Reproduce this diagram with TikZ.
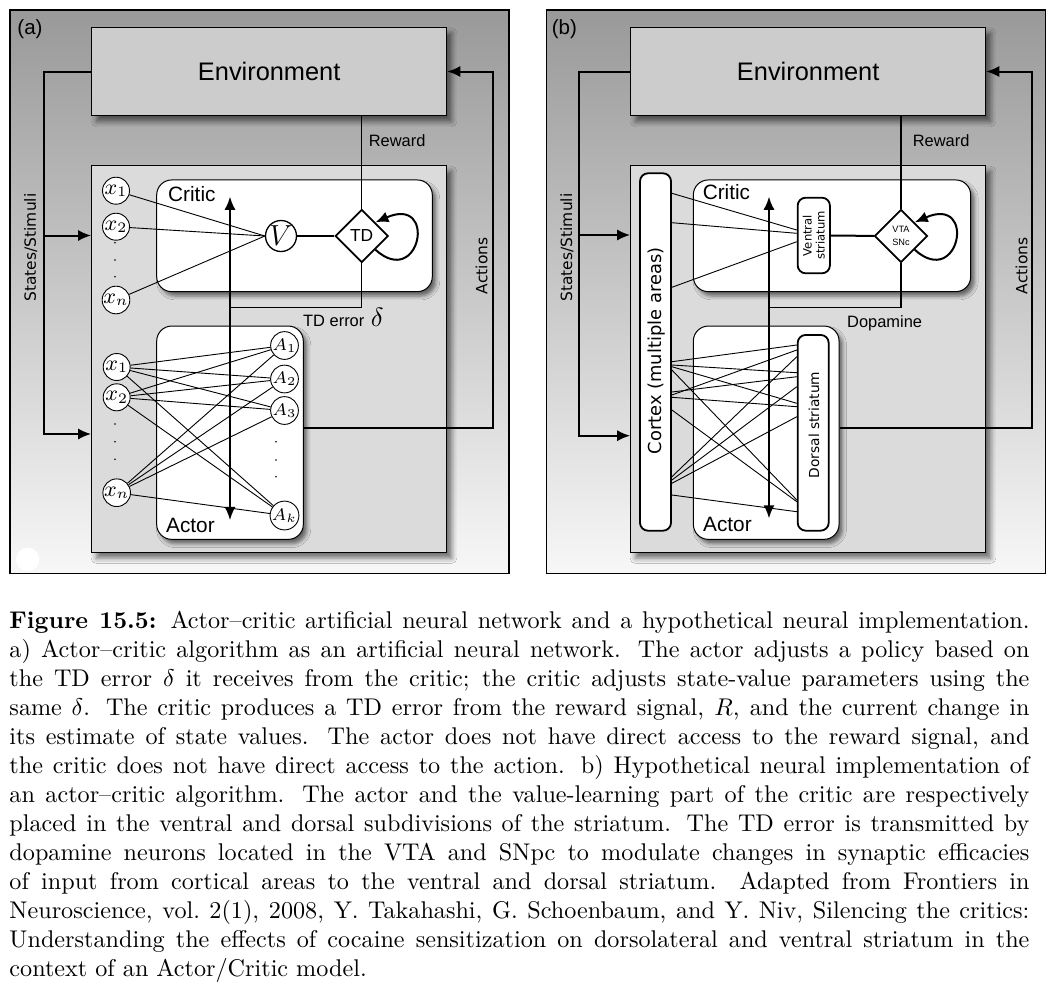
\documentclass[tikz,border=0pt]{standalone}
\usepackage{fontspec}
\newfontfamily\helvfont{Liberation Sans}
\newfontfamily\lucfont{DejaVu Sans}
\usetikzlibrary{arrows.meta,shapes.geometric,shadows.blur}

\newlength{\du}
\setlength{\du}{0.4138pt}

\definecolor{frametop}{gray}{0.60}
\definecolor{framebot}{gray}{0.97}
\definecolor{envgray}{gray}{0.80}
\definecolor{lowgray}{gray}{0.86}

\tikzset{
  panel/.style={draw, line width=1.2\du, top color=frametop, bottom color=framebot,
    anchor=north west, minimum width=499\du, minimum height=563.4\du, inner sep=0pt},
  boxshadow/.style={blur shadow={shadow xshift=2pt, shadow yshift=-2.4pt,
    shadow blur radius=2.2pt, shadow opacity=55}},
  envbox/.style={draw, line width=1\du, fill=envgray, minimum width=355\du,
    minimum height=88.4\du, inner sep=0pt, boxshadow,
    font=\helvfont\fontsize{10.5}{12}\selectfont},
  lowbox/.style={draw, line width=1\du, fill=lowgray, minimum width=355\du,
    minimum height=386.6\du, inner sep=0pt, boxshadow},
  unitbox/.style={draw, line width=1\du, fill=white, rounded corners=15\du, inner sep=0pt,
    blur shadow={shadow xshift=1.5pt, shadow yshift=-1.8pt, shadow blur radius=1.6pt,
    shadow opacity=55}},
  brainbox/.style={draw, line width=1.8\du, fill=white, rounded corners=8\du, inner sep=0pt},
  inp/.style={circle, draw, line width=0.9\du, fill=white, minimum size=27\du,
    inner sep=0pt, font=\fontsize{9}{10}\selectfont},
  outp/.style={inp, font=\fontsize{7}{8}\selectfont},
  valnode/.style={circle, draw, line width=1.3\du, fill=white, minimum size=31\du,
    inner sep=0pt, font=\fontsize{12}{14}\selectfont},
  tdnode/.style={diamond, draw, line width=1.8\du, fill=white, minimum size=53\du,
    inner sep=0pt, align=center},
  tag/.style={inner sep=0pt, font=\helvfont\fontsize{8.5}{10}\selectfont},
  smalllab/.style={inner sep=0pt, anchor=base west, font=\helvfont\fontsize{6.8}{8}\selectfont},
  boxlab/.style={inner sep=0pt, anchor=base west, font=\helvfont\fontsize{8.6}{10}\selectfont},
  sidelab/.style={rotate=90, inner sep=0pt, font=\lucfont\fontsize{6.4}{8}\selectfont},
  wire/.style={line width=2\du},
  weight/.style={line width=0.9\du},
  arr/.style={line width=2\du, -{Latex[length=5.4pt,width=4.6pt]}},
  dblarr/.style={line width=2\du, {Latex[length=5.4pt,width=4.6pt]}-{Latex[length=5.4pt,width=4.6pt]}},
}

\begin{document}
\begin{tikzpicture}[x=1\du, y=-1\du]
  \useasboundingbox (0,0) rectangle (1058,1000);
  \fill[white] (0,0) rectangle (1058,1000);

  % ---- panel (a): artificial network
  \node[panel] (frameA) at (9.3,9.3) {};
  \fill[white] (27.7,559.3) circle (11.7\du);
  \node[tag] (tagA) at (30,29) {(a)};
  \node[envbox] (envA) at (269.2,71.5) {Environment};
  \node[lowbox] (lowA) at (269.2,359) {};
  \node[unitbox, minimum width=275.6\du, minimum height=111.7\du] (critA) at (294.5,235.8) {};
  \node[unitbox, minimum width=146.6\du, minimum height=213.3\du] (actA) at (230,432.7) {};
  \node[boxlab] (critAlab) at (167.7,201) {Critic};
  \node[boxlab] (actAlab) at (165.7,532) {Actor};

  \node[inp] (cx1) at (116,190.7) {$x_1$};
  \node[inp] (cx2) at (116,226.7) {$x_2$};
  \node[inp] (cxn) at (116,300) {$x_n$};
  \foreach \y in {242.7,260,276.7} \fill (115,\y) circle (0.9\du);
  \node[valnode] (vA) at (281,236) {$V$};
  \node[tdnode, font=\helvfont\fontsize{7.2}{8}\selectfont] (tdA) at (361.7,236) {TD};

  \node[inp] (ax1) at (116.7,367) {$x_1$};
  \node[inp] (ax2) at (116.7,397.3) {$x_2$};
  \node[inp] (axn) at (116.7,492.7) {$x_n$};
  \foreach \y in {424,441.7,459.3} \fill (115,\y) circle (0.9\du);
  \node[outp] (aa1) at (284.5,345.5) {$A_1$};
  \node[outp] (aa2) at (284.5,379) {$A_2$};
  \node[outp] (aa3) at (284.5,410.5) {$A_3$};
  \node[outp] (aak) at (284.5,515.5) {$A_k$};
  \foreach \y in {441.7,460,476.7} \fill (276,\y) circle (0.9\du);

  \coordinate (loopA1) at (420,290);
  \coordinate (loopA2) at (438,195);
  \coordinate (errA) at (230,307.3);
  \coordinate (upA) at (230,196.7);
  \coordinate (dnA) at (230,520);
  \coordinate (actsA) at (492.7,428.3);
  \coordinate (stA) at (44.3,434);
  \coordinate (st2A) at (44.3,235.5);

  \foreach \s in {cx1,cx2,cxn} \draw[weight] (\s) -- (vA.west);
  \draw[wire] (vA) -- (tdA);
  \draw[line width=1.3\du] (envA.south -| tdA.north) -- (tdA.north);
  \draw[arr] (tdA.south east) .. controls (loopA1) and (loopA2) .. (tdA.north east);
  \draw[line width=1.5\du] (tdA.south) |- (errA);
  \foreach \s in {ax1,ax2,axn}
    \foreach \t in {aa1,aa2,aa3,aak}
      \draw[weight] (\s) -- (\t);
  \draw[dblarr] (upA) -- (dnA);
  \draw[arr] (actA.east |- actsA) -- (actsA) |- (envA.east);
  \draw[arr] (envA.west) -| (stA) -- (stA -| lowA.west);
  \draw[arr] (st2A) -- (st2A -| lowA.west);

  \node[smalllab] (rewA) at (368.3,146.7) {Reward};
  \node[smalllab] (errAlab) at (302.7,326.7) {TD error\hspace{0.8pt} \fontsize{11}{12}\selectfont$\delta$};
  \node[sidelab] (stimA) at (30.8,247.5) {States/Stimuli};
  \node[sidelab] (actnA) at (481.7,265.8) {Actions};

  % ---- panel (b): neural counterpart
  \node[panel] (frameB) at (546,9.3) {};
  \node[tag] (tagB) at (564.3,29) {(b)};
  \node[envbox] (envB) at (808.2,71.5) {Environment};
  \node[lowbox] (lowB) at (808.2,359) {};
  \node[unitbox, minimum width=277.4\du, minimum height=111.7\du] (critB) at (832,235.8) {};
  \node[unitbox, minimum width=145.7\du, minimum height=213.3\du] (actB) at (766.2,432.7) {};
  \node[boxlab] (critBlab) at (702.3,199) {Critic};
  \node[boxlab] (actBlab) at (702.7,531.7) {Actor};

  \node[brainbox, minimum width=31\du, minimum height=357.4\du] (ctxB) at (655.5,352) {};
  \node[rotate=90, inner sep=0pt, font=\lucfont\fontsize{7.4}{9}\selectfont] (ctxBlab) at (657,351) {Cortex (multiple areas)};
  \node[brainbox, minimum width=32.3\du, minimum height=75.6\du] (ventB) at (813.8,235.5) {};
  \node[rotate=90, inner sep=0pt, align=center, font=\lucfont\fontsize{4.8}{5.3}\selectfont] (ventBlab) at (ventB) {Ventral\\striatum};
  \node[brainbox, minimum width=31\du, minimum height=195.7\du] (dorsB) at (813.2,432.8) {};
  \node[rotate=90, inner sep=0pt, font=\lucfont\fontsize{5.7}{7}\selectfont] (dorsBlab) at (814,425) {Dorsal striatum};
  \node[tdnode, font=\helvfont\fontsize{3.8}{5.2}\selectfont] (vtaB) at (901,236) {VTA\\SNc};

  \coordinate (loopB1) at (959.3,290);
  \coordinate (loopB2) at (977.3,195);
  \coordinate (errB) at (769,307.3);
  \coordinate (upB) at (769,196.7);
  \coordinate (dnB) at (769,518.3);
  \coordinate (actsB) at (1031.7,428.3);
  \coordinate (stB) at (579,435.7);
  \coordinate (st2B) at (579,235);

  \foreach \a/\b in {193.3/230, 222.7/233.3, 287.3/241.7}
    \draw[weight] (ctxB.east |- 0,\a) -- (ventB.west |- 0,\b);
  \draw[wire] (ventB) -- (vtaB);
  \draw[line width=1.3\du] (envB.south -| vtaB.north) -- (vtaB.north);
  \draw[arr] (vtaB.south east) .. controls (loopB1) and (loopB2) .. (vtaB.north east);
  \draw[line width=1.5\du] (vtaB.south) |- (errB);
  \foreach \a/\b in {361.7/345, 365/372.7, 366.7/403.3, 370/500,
                     395/350, 392/376.7, 397.3/406.7, 410/501.7,
                     476.7/356.7, 480/386.7, 483.3/416.7, 495/511.7}
    \draw[weight] (ctxB.east |- 0,\a) -- (dorsB.west |- 0,\b);
  \draw[dblarr] (upB) -- (dnB);
  \draw[arr] (actB.east |- actsB) -- (actsB) |- (envB.east);
  \draw[arr] (envB.west) -| (stB) -- (stB -| lowB.west);
  \draw[arr] (st2B) -- (st2B -| lowB.west);

  \node[smalllab] (rewB) at (912.3,146.7) {Reward};
  \node[smalllab] (dopB) at (846.7,327) {Dopamine};
  \node[sidelab] (stimB) at (567,247.5) {States/Stimuli};
  \node[sidelab] (actnB) at (1021.5,265.8) {Actions};

  % ---- caption
  \node[anchor=north west, inner sep=0pt, text width=1020\du, align=justify,
    font=\fontsize{10}{12}\selectfont] (capt) at (9,611) {%
    \textbf{Figure 15.5:} Actor--critic artificial neural network and a hypothetical neural implementation.\linebreak
    a) Actor--critic algorithm as an artificial neural network. The actor adjusts a policy based on\linebreak
    the TD error $\delta$ it receives from the critic; the critic adjusts state-value parameters using the\linebreak
    same $\delta$. The critic produces a TD error from the reward signal, $R$, and the current change in\linebreak
    its estimate of state values. The actor does not have direct access to the reward signal, and\linebreak
    the critic does not have direct access to the action. b) Hypothetical neural implementation of\linebreak
    an actor--critic algorithm. The actor and the value-learning part of the critic are respectively\linebreak
    placed in the ventral and dorsal subdivisions of the striatum. The TD error is transmitted by\linebreak
    dopamine neurons located in the VTA and SNpc to modulate changes in synaptic efficacies\linebreak
    of input from cortical areas to the ventral and dorsal striatum. Adapted from Frontiers in\linebreak
    Neuroscience, vol.\ 2(1), 2008, Y. Takahashi, G. Schoenbaum, and Y. Niv, Silencing the critics:\linebreak
    Understanding the effects of cocaine sensitization on dorsolateral and ventral striatum in the\linebreak
    context of an Actor/Critic model.};
\end{tikzpicture}
\end{document}
